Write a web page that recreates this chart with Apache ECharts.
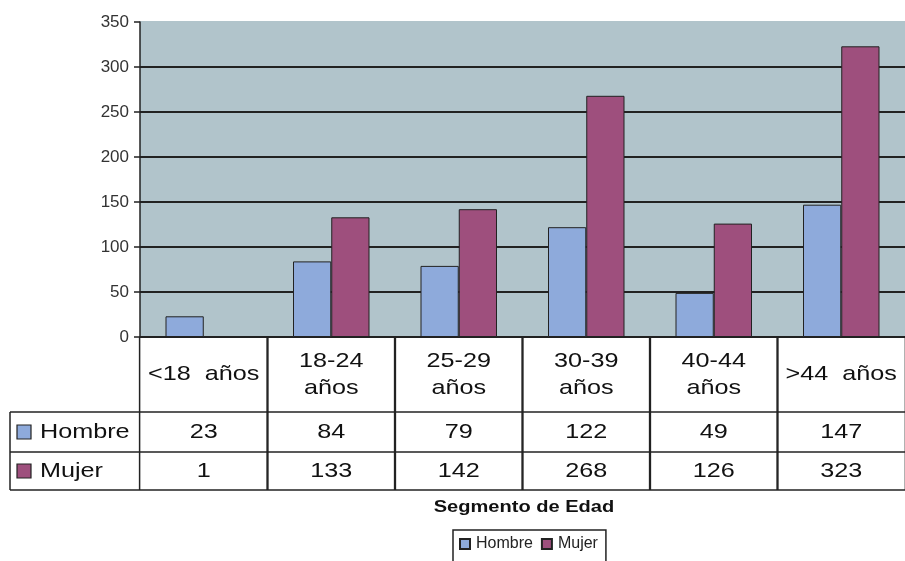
<!DOCTYPE html>
<html>
<head>
<meta charset="utf-8">
<script src="https://cdn.jsdelivr.net/npm/echarts@6/dist/echarts.min.js"></script>
<style>
  html, body { margin: 0; padding: 0; background: #fff; }
  #main { width: 905px; height: 561px; }
</style>
</head>
<body>
<div id="main"></div>
<script>
var categories = ["<18  años", "18-24\naños", "25-29\naños", "30-39\naños", "40-44\naños", ">44  años"];
var hombre = [23, 84, 79, 122, 49, 147];
var mujer = [1, 133, 142, 268, 126, 323];
var yTicks = [0, 50, 100, 150, 200, 250, 300, 350];

var colorHombre = "#8eaadb";
var colorMujer = "#9e4f7d";
var font = "Liberation Sans, Arial, sans-serif";

var chart = echarts.init(document.getElementById("main"));

var gridLeft = 140, gridTop = 22, gridH = 315, catW = 128.3;

var option = {
  animation: false,
  textStyle: { fontFamily: font },
  grid: {
    left: gridLeft,
    top: gridTop,
    width: catW * categories.length,
    height: gridH,
    show: true,
    backgroundColor: "#b1c4cb",
    borderWidth: 0
  },
  legend: {
    data: ["Hombre", "Mujer"],
    left: 453,
    top: 530,
    itemWidth: 10,
    itemHeight: 10,
    itemGap: 8,
    padding: [6, 8, 12, 6],
    borderColor: "#222",
    borderWidth: 1.5,
    icon: "rect",
    textStyle: { fontSize: 16, color: "#222", padding: [0, 0, 0, 1] }
  },
  xAxis: {
    type: "category",
    data: categories,
    axisLine: { lineStyle: { color: "#222", width: 1.5 } },
    axisTick: { show: false },
    axisLabel: { show: false }
  },
  yAxis: {
    type: "value",
    min: yTicks[0],
    max: yTicks[yTicks.length - 1],
    interval: 50,
    axisLine: { show: true, lineStyle: { color: "#222", width: 1.5 } },
    axisTick: { show: true, length: 6, lineStyle: { color: "#222", width: 1.5 } },
    axisLabel: { fontSize: 17, color: "#333", margin: 11 },
    splitLine: {
      lineStyle: {
        color: ["#222", "#222", "#222", "#222", "#222", "#222", "#222", "#b1c4cb"],
        width: 2
      }
    }
  },
  series: [
    {
      name: "Hombre",
      type: "bar",
      data: hombre,
      barGap: "0%",
      barCategoryGap: "40%",
      itemStyle: { color: colorHombre, borderColor: "#222", borderWidth: 1 }
    },
    {
      name: "Mujer",
      type: "bar",
      data: mujer,
      barMinHeight: 1,
      itemStyle: { color: colorMujer, borderColor: "#222", borderWidth: 1 }
    }
  ]
};
chart.setOption(option);

// data table under the axis
var y0 = chart.convertToPixel({ yAxisIndex: 0 }, 0);
var rowH = [75, 40, 38];
var rowY = [y0, y0 + rowH[0], y0 + rowH[0] + rowH[1], y0 + rowH[0] + rowH[1] + rowH[2]];
var tableLeft = 10;
var graphic = [];
var lineStyle = { stroke: "#222", lineWidth: 1.5 };

function hline(x1, x2, y) {
  graphic.push({ type: "line", shape: { x1: x1, y1: y, x2: x2, y2: y }, style: lineStyle, silent: true });
}
function vline(x, y1, y2) {
  graphic.push({ type: "line", shape: { x1: x, y1: y1, x2: x, y2: y2 }, style: lineStyle, silent: true });
}
function cellText(x, y, txt, align) {
  graphic.push({
    type: "text", x: x, y: y, scaleX: 1.2,
    style: { text: txt, fontSize: 21, fontFamily: font, fill: "#111",
      align: align || "center", verticalAlign: "middle", lineHeight: 27 },
    silent: true
  });
}

var right = 905 + 20;
hline(tableLeft, right, rowY[1]);
hline(tableLeft, right, rowY[2]);
hline(tableLeft, right, rowY[3]);
vline(tableLeft, rowY[1], rowY[3]);

for (var i = 0; i < categories.length; i++) {
  var cx = chart.convertToPixel({ xAxisIndex: 0 }, i);
  var half = catW / 2;
  vline(cx - half, rowY[0], rowY[3]);
  vline(cx + half, rowY[0], rowY[3]);
  cellText(cx, rowY[0] + rowH[0] / 2, categories[i]);
  cellText(cx, rowY[1] + rowH[1] / 2, String(hombre[i]));
  cellText(cx, rowY[2] + rowH[2] / 2, String(mujer[i]));
}

// row headers with colour keys
var seriesRows = [["Hombre", colorHombre], ["Mujer", colorMujer]];
for (var r = 0; r < seriesRows.length; r++) {
  var my = rowY[r + 1] + rowH[r + 1] / 2;
  graphic.push({
    type: "rect", shape: { x: 17, y: my - 7, width: 14, height: 14 },
    style: { fill: seriesRows[r][1], stroke: "#222", lineWidth: 1.2 }, silent: true
  });
  cellText(40, my, seriesRows[r][0], "left");
}

// axis title
graphic.push({
  type: "text", x: 524, y: rowY[3] + 17, scaleX: 1.18,
  style: { text: "Segmento de Edad", fontSize: 17, fontWeight: "bold", fontFamily: font,
    fill: "#111", align: "center", verticalAlign: "middle" },
  silent: true
});

chart.setOption({ graphic: graphic });
</script>
</body>
</html>
